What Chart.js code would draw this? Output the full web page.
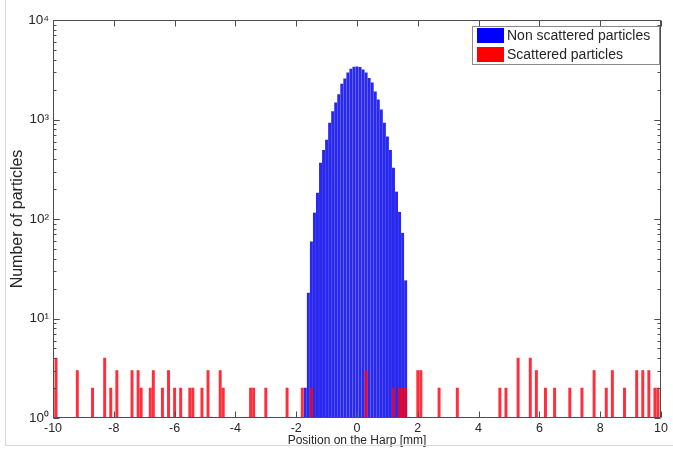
<!DOCTYPE html>
<html lang="en">
<head>
  <meta charset="UTF-8">
  <title>Position on the Harp</title>
  <script src="https://cdn.jsdelivr.net/npm/chart.js"></script>
  <style>
    html, body { margin: 0; padding: 0; background: #fff; }
    canvas { display: block; }
  </style>
</head>
<body>
  <canvas id="harpChart" width="673" height="453"></canvas>

  <script>
    // histogram bins (0.1 mm)
    const blueX = [-1.7, -1.6, -1.5, -1.4, -1.3, -1.2, -1.1, -1.0, -0.9, -0.8, -0.7, -0.6, -0.5, -0.4, -0.3, -0.2, -0.1,
                   0.0, 0.1, 0.2, 0.3, 0.4, 0.5, 0.6, 0.7, 0.8, 0.9, 1.0, 1.1, 1.2, 1.3, 1.4, 1.5, 1.6];
    const blueY = [2, 18, 59, 115, 182, 365, 490, 620, 920, 1200, 1470, 1780, 2270, 2560, 2940, 3220, 3370,
                   3380, 3350, 3150, 2940, 2600, 2330, 1900, 1580, 1250, 920, 670, 490, 325, 187, 117, 72, 24];

    const redX = [-10.0, -9.9, -9.2, -8.7, -8.3, -8.1, -7.9, -7.4, -7.2, -7.1, -6.8, -6.7, -6.4, -6.2, -6.0, -5.8,
                  -5.5, -5.4, -5.1, -4.9, -4.5, -4.4, -3.5, -3.4, -3.0, -2.3, -1.8, -1.5, 0.3, 1.2, 1.4, 1.5, 1.6,
                  2.0, 2.1, 2.7, 3.3, 4.7, 4.9, 5.3, 5.7, 5.9, 6.2, 6.5, 7.0, 7.4, 7.8, 8.2, 8.4, 8.8, 9.2, 9.4,
                  9.6, 9.8, 9.9];
    const redY = [2, 4, 3, 2, 4, 2, 3, 3, 3, 2, 2, 3, 2, 3, 2, 2,
                  2, 2, 2, 3, 3, 2, 2, 2, 2, 2, 2, 2, 3, 2, 2, 2, 2,
                  3, 3, 2, 2, 2, 2, 4, 4, 3, 2, 2, 2, 2, 3, 2, 3, 2, 3, 3,
                  3, 2, 2];

    const seriesLabels = ['Non scattered particles', 'Scattered particles'];
    const xTickValues = [-10, -8, -6, -4, -2, 0, 2, 4, 6, 8, 10];
    const yTickValues = [1, 10, 100, 1000, 10000];
    const yTickLabels = ['10\u2070', '10\u00b9', '10\u00b2', '10\u00b3', '10\u2074'];

    const FONT = '"Liberation Sans", Arial, sans-serif';
    const TEXT = '#262626';

    // matlab-ish box, inward ticks, legend and the thin picture frame
    const matlabBits = {
      id: 'matlabBits',
      afterDatasetsDraw(chart) {
        const { ctx, chartArea: a, scales: { x, y } } = chart;
        const L = Math.round(a.left) + 0.5, R = Math.round(a.right) - 0.5;
        const T = Math.round(a.top) + 0.5, B = Math.round(a.bottom) - 0.5;
        ctx.save();
        ctx.strokeStyle = '#4d4d4d';
        ctx.lineWidth = 1;
        ctx.beginPath();
        ctx.rect(L, T, R - L, B - T);
        xTickValues.forEach(v => {
          const px = Math.round(x.getPixelForValue(v)) + 0.5;
          ctx.moveTo(px, B); ctx.lineTo(px, B - 6);
          ctx.moveTo(px, T); ctx.lineTo(px, T + 6);
        });
        for (let d = 1; d < 10000; d *= 10) {
          for (let m = 1; m <= 10; m++) {
            const v = d * m;
            const py = Math.round(y.getPixelForValue(v)) + 0.5;
            const len = (m === 1 || m === 10) ? 6 : 3;
            ctx.moveTo(L, py); ctx.lineTo(L + len, py);
            ctx.moveTo(R, py); ctx.lineTo(R - len, py);
          }
        }
        ctx.stroke();
        ctx.restore();
      },
      afterDraw(chart) {
        const { ctx } = chart;
        const ds = chart.data.datasets;
        ctx.save();
        // legend box
        ctx.fillStyle = '#fff';
        ctx.fillRect(472, 26, 188, 39);
        ctx.strokeStyle = '#8a8a8a';
        ctx.lineWidth = 1;
        ctx.strokeRect(472.5, 26.5, 187, 38);
        ctx.font = '14px ' + FONT;
        ctx.textBaseline = 'middle';
        ds.forEach((d, i) => {
          const top = 28 + i * 19;
          ctx.fillStyle = d.legendColor;
          ctx.fillRect(477, top, 27, 15);
          ctx.fillStyle = TEXT;
          ctx.fillText(d.label, 507, top + 8);
        });
        // faint frame round the picture
        ctx.strokeStyle = '#d9d9d9';
        ctx.beginPath();
        ctx.moveTo(5.5, 0); ctx.lineTo(5.5, 445.5); ctx.lineTo(673, 445.5);
        ctx.stroke();
        ctx.restore();
      }
    };

    const ctx = document.getElementById('harpChart').getContext('2d');
    new Chart(ctx, {
      type: 'bar',
      data: {
        datasets: [
          {
            label: seriesLabels[0],
            data: blueX.map((v, i) => ({ x: v, y: blueY[i] })),
            backgroundColor: 'rgb(40,40,238)',
            legendColor: '#0000ff',
            grouped: false,
            barThickness: 2.3,
            order: 1
          },
          {
            label: seriesLabels[1],
            data: redX.map((v, i) => ({ x: v, y: redY[i] })),
            backgroundColor: 'rgba(255,0,15,0.82)',
            legendColor: '#ff0000',
            grouped: false,
            barThickness: 2.3,
            order: 0
          }
        ]
      },
      options: {
        responsive: false,
        animation: false,
        devicePixelRatio: 1,
        layout: { padding: { top: 20, right: 12, left: 0, bottom: 0 } },
        plugins: {
          legend: { display: false },
          tooltip: { enabled: false }
        },
        scales: {
          x: {
            type: 'linear',
            min: -10,
            max: 10,
            offset: false,
            grid: { display: false, drawTicks: false },
            border: { display: false },
            afterBuildTicks: s => { s.ticks = xTickValues.map(v => ({ value: v })); },
            afterFit: s => { s.height = 35; },
            ticks: {
              padding: 3,
              maxRotation: 0,
              autoSkip: false,
              color: TEXT,
              font: { family: FONT, size: 12.5 },
              callback: v => String(v)
            },
            title: {
              display: true,
              text: 'Position on the Harp [mm]',
              color: TEXT,
              font: { family: FONT, size: 12 },
              padding: { top: 0, bottom: 5 }
            }
          },
          y: {
            type: 'logarithmic',
            min: 1,
            max: 10000,
            grid: { display: false, drawTicks: false },
            border: { display: false },
            afterBuildTicks: s => { s.ticks = yTickValues.map(v => ({ value: v })); },
            afterFit: s => { s.width = 53; },
            ticks: {
              padding: 4,
              autoSkip: false,
              color: TEXT,
              font: { family: FONT, size: 13.5 },
              callback: v => yTickLabels[yTickValues.indexOf(v)]
            },
            title: {
              display: true,
              text: 'Number of particles',
              color: TEXT,
              font: { family: FONT, size: 16 },
              padding: { top: 8, bottom: 0 }
            }
          }
        }
      },
      plugins: [matlabBits]
    });
  </script>
</body>
</html>
